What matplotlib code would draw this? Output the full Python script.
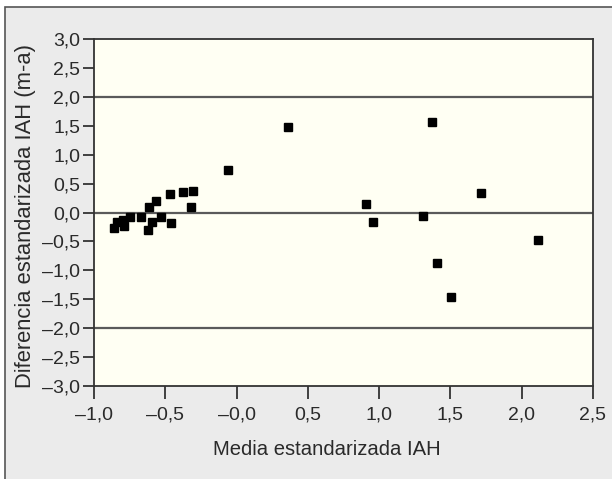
import matplotlib
matplotlib.use("Agg")
import matplotlib.pyplot as plt
from matplotlib.patches import Rectangle

# mean vs. difference (standardized AHI)
media = [-0.858, -0.84, -0.795, -0.79, -0.748, -0.673, -0.612, -0.595, -0.62,
         -0.565, -0.528, -0.465, -0.46, -0.378, -0.308, -0.318,
         -0.06, 0.36, 0.907, 0.957, 1.31, 1.368, 1.403, 1.503, 1.716, 2.114]
diferencia = [-0.26, -0.17, -0.13, -0.23, -0.07, -0.07, 0.09, -0.16, -0.31,
              0.20, -0.07, 0.32, -0.19, 0.35, 0.38, 0.09,
              0.74, 1.47, 0.14, -0.17, -0.06, 1.56, -0.87, -1.46, 0.33, -0.47]
ref_lines = [-2.0, 0.0, 2.0]

xticks = [-1.0, -0.5, 0.0, 0.5, 1.0, 1.5, 2.0, 2.5]
xlabels = ["–1,0", "–0,5", "–0,0", "0,5", "1,0", "1,5", "2,0", "2,5"]
yticks = [3.0, 2.5, 2.0, 1.5, 1.0, 0.5, 0.0, -0.5, -1.0, -1.5, -2.0, -2.5, -3.0]
ylabels = ["3,0", "2,5", "2,0", "1,5", "1,0", "0,5", "0,0",
           "–0,5", "–1,0", "–1,5", "–2,0", "–2,5", "–3,0"]

plt.rcParams["font.family"] = ["Liberation Sans", "DejaVu Sans"]
TXT = "#2a2a2a"

fig = plt.figure(figsize=(6.12, 4.79), dpi=100)
fig.patch.set_facecolor("white")
# grey panel, its right and bottom edges run off the picture
fig.patches.append(Rectangle((5 / 612, -20 / 479), 630 / 612, 492 / 479,
                             transform=fig.transFigure, facecolor="#ebebeb",
                             edgecolor="#555555", linewidth=1.2, zorder=-10))

ax = fig.add_axes([94 / 612, 1 - 386 / 479, 499 / 612, 347 / 479])
ax.set_facecolor("#fffff3")

for yv in ref_lines:
    ax.axhline(yv, color="#5a5a5a", linewidth=1.6, zorder=1)

ax.plot(media, diferencia, linestyle="none", marker="s", markersize=5.3,
        color="black", zorder=3)

ax.set_xlim(-1.0, 2.5)
ax.set_ylim(-3.0, 3.0)
ax.set_xticks(xticks)
ax.set_xticklabels(xlabels)
ax.set_yticks(yticks)
ax.set_yticklabels(ylabels)
ax.tick_params(direction="out", width=1.3, colors="#333333",
               labelsize=14, labelcolor=TXT)
ax.tick_params(axis="x", length=9.5, pad=5)
ax.tick_params(axis="y", length=8, pad=2)

for spine in ax.spines.values():
    spine.set_edgecolor("#333333")
    spine.set_linewidth(1.3)

ax.set_xlabel("Media estandarizada IAH", fontsize=14.6, color=TXT, va="center")
ax.xaxis.set_label_coords(0.467, -0.1816)
ax.set_ylabel("Diferencia estandarizada IAH (m-a)", fontsize=15.8, color=TXT,
              va="center")
ax.yaxis.set_label_coords(-0.138, 0.491)

fig.savefig("out.png", dpi=100, facecolor=fig.get_facecolor())
